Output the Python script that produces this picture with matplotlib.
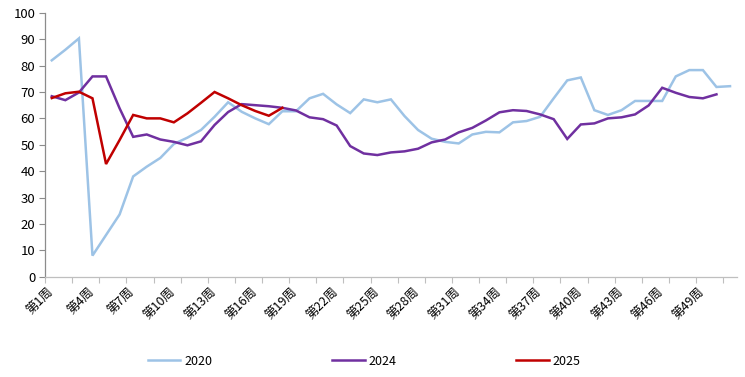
import matplotlib
matplotlib.use("Agg")
import matplotlib.pyplot as plt
from matplotlib.ticker import FixedLocator

plt.rcParams['font.family'] = ['Noto Sans CJK SC', 'DejaVu Sans']

weeks = [f"第{i}周" for i in range(1, 52)]
label_weeks = list(range(1, 52, 3))

s2020 = [82.0, 86.0, 90.3, 8.0, 15.8, 23.6, 38.0, 41.7, 45.0, 50.3,
         52.7, 55.6, 60.6, 66.1, 62.5, 60.0, 57.8, 62.7, 62.7, 67.6,
         69.3, 65.3, 62.0, 67.2, 66.1, 67.2, 60.9, 55.6, 52.3, 51.1,
         50.5, 53.9, 54.9, 54.7, 58.5, 59.0, 60.6, 67.6, 74.4, 75.5,
         63.1, 61.3, 63.1, 66.6, 66.6, 66.6, 75.9, 78.3, 78.3, 71.9,
         72.2]
s2024 = [68.4, 66.9, 69.8, 75.9, 75.9, 63.8, 53.0, 53.9, 52.0, 51.1,
         49.8, 51.3, 57.5, 62.4, 65.4, 65.0, 64.6, 64.0, 63.0, 60.4,
         59.7, 57.3, 49.5, 46.7, 46.1, 47.1, 47.5, 48.5, 50.9, 52.0,
         54.7, 56.4, 59.2, 62.3, 63.1, 62.8, 61.5, 59.7, 52.2, 57.7,
         58.1, 60.0, 60.4, 61.5, 64.9, 71.6, 69.7, 68.1, 67.6, 69.1]
s2025 = [67.7, 69.5, 70.1, 67.6, 42.7, 51.8, 61.3, 60.0, 60.0, 58.5,
         61.9, 65.9, 70.0, 67.6, 65.0, 62.8, 61.0, 64.0]

series = [("2020", s2020, "#9DC3E6", 1.8),
          ("2024", s2024, "#7030A0", 1.8),
          ("2025", s2025, "#C00000", 1.8)]

fig = plt.figure(figsize=(7.45, 3.77), dpi=100)
ax = fig.add_axes([0.0604, 0.266, 0.989 - 0.0604, 0.966 - 0.266])

for name, vals, color, lw in series:
    x = list(range(1, len(vals) + 1))
    ax.plot(x, vals, color=color, lw=lw, label=name, solid_joinstyle='miter')

ax.set_xlim(0.5, len(weeks) + 0.5)
ax.set_ylim(0, 100)
ax.set_yticks(range(0, 101, 10))

ax.set_xticks(label_weeks)
ax.set_xticklabels([weeks[i - 1] for i in label_weeks], rotation=45,
                   ha='right', va='center', rotation_mode='anchor', fontsize=9)
ax.xaxis.set_minor_locator(FixedLocator([0.5 + 2 * i for i in range(26)]))
ax.tick_params(axis='x', which='major', length=0, pad=10)
ax.tick_params(axis='x', which='minor', length=4, color='#BFBFBF', width=0.8)
ax.tick_params(axis='y', length=4, color='#8C8C8C', width=0.8, labelsize=9.5, pad=3)

for sp in ['top', 'right']:
    ax.spines[sp].set_visible(False)
ax.spines['bottom'].set_color('#BFBFBF')
ax.spines['left'].set_color('#8C8C8C')
ax.spines['bottom'].set_linewidth(0.9)
ax.spines['left'].set_linewidth(0.9)

fig.legend(loc='center', bbox_to_anchor=(0.489, 0.042), ncol=3, frameon=False,
           fontsize=9, handlelength=2.6, columnspacing=9.6, handletextpad=0.3)

fig.savefig("out.png", dpi=100)
